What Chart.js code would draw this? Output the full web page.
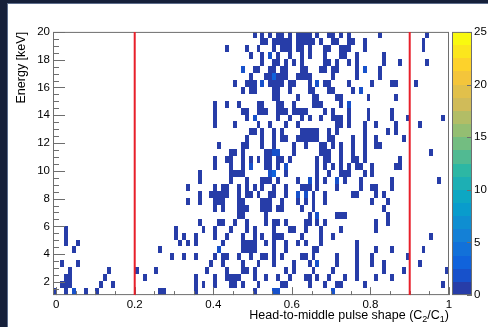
<!DOCTYPE html>
<html>
<head>
<meta charset="utf-8">
<title>Energy vs pulse shape</title>
<script src="https://cdn.jsdelivr.net/npm/chart.js@4.4.1/dist/chart.umd.min.js"></script>
<style>
  html, body { margin: 0; padding: 0; background: #16203a; }
  #hist { display: block; }
</style>
</head>
<body>
<canvas id="hist" width="488" height="327"></canvas>
<script>
// histogram binning
const X_BIN_WIDTH = 0.01;   // pulse shape C2/C1
const E_FIRST = 1.05;       // lower edge of the first energy bin [keV]
const E_BIN_WIDTH = 0.5;    // [keV]

// filled bins, one list per energy row from the bottom up; numbers are pulse-shape bin indices
const rowBins = [
  [-1, 2, 4, 7, 10, 26, 27, 35, 50, 55, 56, 70],
  [1, 2, 3, 11, 14, 35, 37, 40, 44, 45, 47, 51, 57, 58, 64, 68, 71, 72, 78, 98],
  [2, 3, 12, 22, 35, 40, 43, 44, 45, 46, 50, 53, 56, 59, 63, 64, 66, 69, 73, 76, 81, 85],
  [3, 13, 20, 25, 38, 43, 47, 48, 50, 58, 60, 65, 70, 76, 83, 88, 99],
  [1, 5, 39, 42, 47, 51, 55, 60, 64, 66, 71, 76, 80, 83, 92],
  [29, 32, 35, 40, 42, 43, 46, 49, 52, 53, 55, 57, 62, 63, 65, 71, 76, 80, 89],
  [4, 26, 41, 47, 48, 49, 50, 55, 58, 65, 66, 76, 81, 85, 93],
  [2, 5, 31, 33, 35, 42, 47, 48, 49, 50, 53, 55, 58, 61, 63, 67, 76],
  [2, 30, 32, 35, 40, 43, 47, 50, 52, 55, 56, 57, 62, 67, 70, 95],
  [2, 30, 37, 40, 44, 48, 50, 55, 59, 60, 63, 67, 72, 81],
  [36, 41, 42, 45, 48, 53, 55, 56, 58, 63, 64, 66, 68, 81, 84],
  [46, 47, 53, 64, 66, 71, 72, 73, 84],
  [40, 42, 46, 47, 48, 52, 53, 54, 56, 57, 62, 65, 83],
  [33, 36, 40, 41, 42, 46, 47, 52, 53, 54, 57, 61, 63, 65, 68, 80, 84],
  [36, 39, 40, 41, 42, 43, 46, 48, 49, 51, 54, 55, 58, 61, 63, 65, 68, 75, 76, 81, 83],
  [33, 40, 42, 43, 46, 48, 50, 52, 55, 58, 62, 63, 64, 66, 71, 77, 80, 81, 85],
  [36, 44, 48, 52, 53, 54, 56, 61, 64, 66, 68, 71, 73, 77, 85, 97],
  [36, 44, 45, 46, 47, 54, 55, 58, 66, 69, 72, 73, 74, 78, 80],
  [40, 44, 47, 49, 53, 54, 56, 58, 66, 68, 70, 72, 74, 76, 77, 80, 86, 87],
  [40, 43, 44, 47, 49, 51, 53, 54, 56, 57, 59, 66, 68, 69, 72, 75, 76, 78, 87],
  [44, 45, 47, 53, 54, 55, 56, 60, 67, 68, 69, 72, 75, 78, 95],
  [41, 47, 48, 52, 55, 60, 63, 67, 68, 70, 72, 75, 78, 81, 82],
  [48, 52, 55, 57, 58, 61, 62, 63, 64, 65, 66, 69, 70, 75, 78, 81, 88],
  [49, 50, 52, 55, 57, 62, 63, 64, 65, 66, 69, 71, 78, 84, 86],
  [40, 45, 51, 54, 58, 61, 71, 72, 74, 78, 81, 86, 92],
  [40, 48, 50, 56, 59, 62, 64, 67, 70, 71, 72, 74, 79, 85, 89, 98],
  [40, 47, 48, 51, 52, 53, 56, 57, 58, 60, 61, 62, 63, 68, 70, 74, 79, 85],
  [40, 43, 46, 51, 52, 56, 57, 60, 65, 66, 67, 72, 74],
  [55, 56, 61, 65, 66, 71, 72, 79, 86],
  [47, 49, 50, 55, 56, 59, 64, 65, 69, 70, 75, 77],
  [45, 48, 49, 50, 52, 54, 55, 56, 57, 59, 60, 64, 66, 68, 69, 74, 80, 85, 86, 91],
  [49, 53, 54, 55, 56, 57, 58, 61, 62, 63, 64, 70, 76, 82],
  [47, 50, 51, 54, 55, 57, 58, 62, 63, 67, 68, 70, 71, 76, 78, 82],
  [52, 55, 56, 58, 60, 62, 68, 69, 71, 74, 76, 83, 87, 94],
  [49, 52, 54, 56, 59, 62, 64, 68, 72, 73, 76, 83],
  [43, 48, 51, 55, 57, 58, 59, 61, 62, 64, 68, 69, 72, 73, 74, 78, 93],
  [52, 53, 55, 56, 57, 58, 59, 61, 62, 63, 64, 65, 67, 70, 71, 74, 75, 78, 93],
  [50, 52, 54, 56, 57, 59, 61, 62, 63, 64, 66, 69, 70, 72, 74, 82, 94]
];

// bins with more than one event: [row, bin, entries]
const multiBins = [
  [0, 4, 2], [0, 55, 2], [0, 56, 2], [0, 70, 2], [4, 66, 2], [6, 41, 2],
  [11, 66, 2], [14, 61, 2], [14, 63, 2], [16, 64, 2], [16, 71, 2], [17, 54, 2],
  [17, 55, 3], [18, 49, 2], [18, 58, 2], [20, 55, 2], [20, 56, 2], [25, 50, 2],
  [27, 74, 2], [29, 77, 2], [30, 52, 2], [30, 66, 2], [31, 55, 3], [32, 47, 2],
  [32, 78, 2], [34, 54, 2]
];

const xTickLabels = [0, 0.2, 0.4, 0.6, 0.8, 1];
const yTickLabels = [2, 4, 6, 8, 10, 12, 14, 16, 18, 20];
const zTickLabels = [0, 5, 10, 15, 20, 25];
const cutPositions = [0.2, 0.9];

const Z_MAX = 25;
const N_LEVELS = 20;

// ROOT "bird" palette
const birdStops = [0.0, 0.125, 0.25, 0.375, 0.5, 0.625, 0.75, 0.875, 1.0];
const birdRed   = [0.2082, 0.0592, 0.0780, 0.0232, 0.1802, 0.5301, 0.8186, 0.9956, 0.9764];
const birdGreen = [0.1664, 0.3599, 0.5041, 0.6419, 0.7178, 0.7492, 0.7328, 0.7862, 0.9832];
const birdBlue  = [0.5293, 0.8684, 0.8385, 0.7914, 0.6425, 0.4662, 0.3499, 0.1968, 0.0539];

function birdColor(t) {
  let i = 0;
  while (i < birdStops.length - 2 && t > birdStops[i + 1]) i++;
  const f = (t - birdStops[i]) / (birdStops[i + 1] - birdStops[i]);
  const mix = a => Math.round(255 * (a[i] + f * (a[i + 1] - a[i])));
  return `rgb(${mix(birdRed)}, ${mix(birdGreen)}, ${mix(birdBlue)})`;
}

function levelColor(k) {
  const idx = Math.floor((k + 0.99) * 255 / N_LEVELS);
  return birdColor(idx / 255);
}

function countColor(v) {
  return levelColor(Math.min(N_LEVELS - 1, Math.floor(v / (Z_MAX / N_LEVELS))));
}

// one point per filled bin, at the bin centre
const entries = new Map(multiBins.map(m => [m[0] + ':' + m[1], m[2]]));
const cells = [];
rowBins.forEach((bins, row) => {
  bins.forEach(bin => {
    cells.push({
      x: (bin + 0.5) * X_BIN_WIDTH,
      y: E_FIRST + (row + 0.5) * E_BIN_WIDTH,
      v: entries.get(row + ':' + bin) || 1
    });
  });
});

const FONT = "'Liberation Sans', Arial, Helvetica, sans-serif";
const AXIS_GREY = '#6e6e6e';

const histPlugin = {
  id: 'histPlugin',
  beforeDraw(chart) {
    const ctx = chart.ctx;
    ctx.save();
    ctx.fillStyle = '#16203a';
    ctx.fillRect(0, 0, chart.width, chart.height);
    ctx.fillStyle = '#5d6d8c';
    ctx.fillRect(7, 3, chart.width - 7, chart.height - 3);
    ctx.fillStyle = '#ffffff';
    ctx.fillRect(8, 4, chart.width - 8, chart.height - 4);
    ctx.restore();
  },
  beforeDatasetsDraw(chart) {
    const { ctx, chartArea: a, scales: { x, y } } = chart;
    ctx.save();
    ctx.beginPath();
    ctx.rect(a.left, a.top, a.right - a.left, a.bottom - a.top);
    ctx.clip();
    chart.data.datasets[0].data.forEach(c => {
      const l = Math.round(x.getPixelForValue(c.x - X_BIN_WIDTH / 2));
      const r = Math.round(x.getPixelForValue(c.x + X_BIN_WIDTH / 2));
      const t = Math.round(y.getPixelForValue(c.y + E_BIN_WIDTH / 2));
      const b = Math.round(y.getPixelForValue(c.y - E_BIN_WIDTH / 2));
      ctx.fillStyle = countColor(c.v);
      ctx.fillRect(l, t, r - l, b - t);
    });
    ctx.restore();
  },
  afterDatasetsDraw(chart) {
    const { ctx, chartArea: a, scales: { x, y, z } } = chart;
    ctx.save();

    // frame
    ctx.strokeStyle = AXIS_GREY;
    ctx.lineWidth = 1;
    ctx.strokeRect(a.left + 0.5, a.top + 0.5, a.right - a.left - 1, a.bottom - a.top - 1);

    // x ticks, pointing up into the frame
    ctx.beginPath();
    for (let i = 0; i <= 20; i++) {
      const v = i * 0.05;
      const px = Math.round(x.getPixelForValue(v)) + 0.5;
      const len = i % 4 === 0 ? 8 : 4;
      ctx.moveTo(px, a.bottom);
      ctx.lineTo(px, a.bottom - len);
    }
    // y ticks, pointing right
    for (let v = 1.5; v <= 20.001; v += 0.5) {
      const py = Math.round(y.getPixelForValue(v)) + 0.5;
      const len = Math.abs(v % 2) < 1e-6 ? 12 : 6;
      ctx.moveTo(a.left, py);
      ctx.lineTo(a.left + len, py);
    }
    ctx.stroke();

    // palette
    const barL = a.right + 3;
    const barR = a.right + 23;
    const step = Z_MAX / N_LEVELS;
    for (let k = 0; k < N_LEVELS; k++) {
      const top = Math.round(z.getPixelForValue((k + 1) * step));
      const bot = Math.round(z.getPixelForValue(k * step));
      ctx.fillStyle = levelColor(k);
      ctx.fillRect(barL, top, barR - barL, bot - top);
    }
    ctx.strokeStyle = AXIS_GREY;
    ctx.strokeRect(barL + 0.5, a.top + 0.5, barR - barL - 1, a.bottom - a.top - 1);
    ctx.beginPath();
    zTickLabels.forEach(v => {
      const py = Math.round(z.getPixelForValue(v)) + 0.5;
      ctx.moveTo(barR, py);
      ctx.lineTo(barR - 5, py);
    });
    ctx.stroke();

    // cut lines
    ctx.strokeStyle = '#e8202a';
    ctx.lineWidth = 2;
    ctx.beginPath();
    cutPositions.forEach(v => {
      const px = x.getPixelForValue(v);
      ctx.moveTo(px, a.top);
      ctx.lineTo(px, a.bottom);
    });
    ctx.stroke();

    // x axis title with subscripts, right aligned to the frame
    const parts = [
      ['Head-to-middle pulse shape (C', false],
      ['2', true],
      ['/C', false],
      ['1', true],
      [')', false]
    ];
    const mainFont = '12.5px ' + FONT;
    const subFont = '9px ' + FONT;
    let total = 0;
    parts.forEach(p => {
      ctx.font = p[1] ? subFont : mainFont;
      total += ctx.measureText(p[0]).width;
    });
    let tx = a.right - total;
    const base = a.bottom + 23.5;
    ctx.fillStyle = '#000';
    ctx.textBaseline = 'alphabetic';
    ctx.textAlign = 'left';
    parts.forEach(p => {
      ctx.font = p[1] ? subFont : mainFont;
      ctx.fillText(p[0], tx, p[1] ? base + 3 : base);
      tx += ctx.measureText(p[0]).width;
    });

    ctx.restore();
  }
};

function fixedTicks(values) {
  return scale => { scale.ticks = values.map(v => ({ value: v })); };
}

Chart.defaults.font.family = FONT;
Chart.defaults.color = '#000';

new Chart(document.getElementById('hist'), {
  type: 'scatter',
  data: {
    datasets: [{
      data: cells,
      pointRadius: 0,
      pointHoverRadius: 0
    }]
  },
  options: {
    responsive: false,
    devicePixelRatio: 1,
    animation: false,
    events: [],
    layout: { padding: { left: 0, top: 11, right: 0, bottom: 0 } },
    plugins: { legend: { display: false }, tooltip: { enabled: false } },
    scales: {
      x: {
        type: 'linear',
        position: 'bottom',
        min: -0.008,
        max: 1.0,
        grid: { display: false, drawTicks: false },
        border: { display: false },
        afterBuildTicks: fixedTicks(xTickLabels),
        afterFit: scale => { scale.height = 31; },
        ticks: {
          padding: 3,
          maxRotation: 0,
          autoSkip: false,
          font: { size: 11.5 },
          callback: v => String(+v.toFixed(1))
        }
      },
      y: {
        type: 'linear',
        position: 'left',
        min: E_FIRST,
        max: 20,
        grid: { display: false, drawTicks: false },
        border: { display: false },
        afterBuildTicks: fixedTicks(yTickLabels),
        afterFit: scale => { scale.width = 53; },
        ticks: { padding: 3, autoSkip: false, font: { size: 11.5 } },
        title: {
          display: true,
          text: 'Energy [keV]',
          align: 'end',
          font: { size: 12.5 },
          padding: { top: 14, bottom: 0 }
        }
      },
      z: {
        type: 'linear',
        position: 'right',
        min: 0,
        max: Z_MAX,
        grid: { display: false, drawTicks: false },
        border: { display: false },
        afterBuildTicks: fixedTicks(zTickLabels),
        afterFit: scale => { scale.width = 39; },
        ticks: { padding: 25, autoSkip: false, font: { size: 11.5 } }
      }
    }
  },
  plugins: [histPlugin]
});
</script>
</body>
</html>
